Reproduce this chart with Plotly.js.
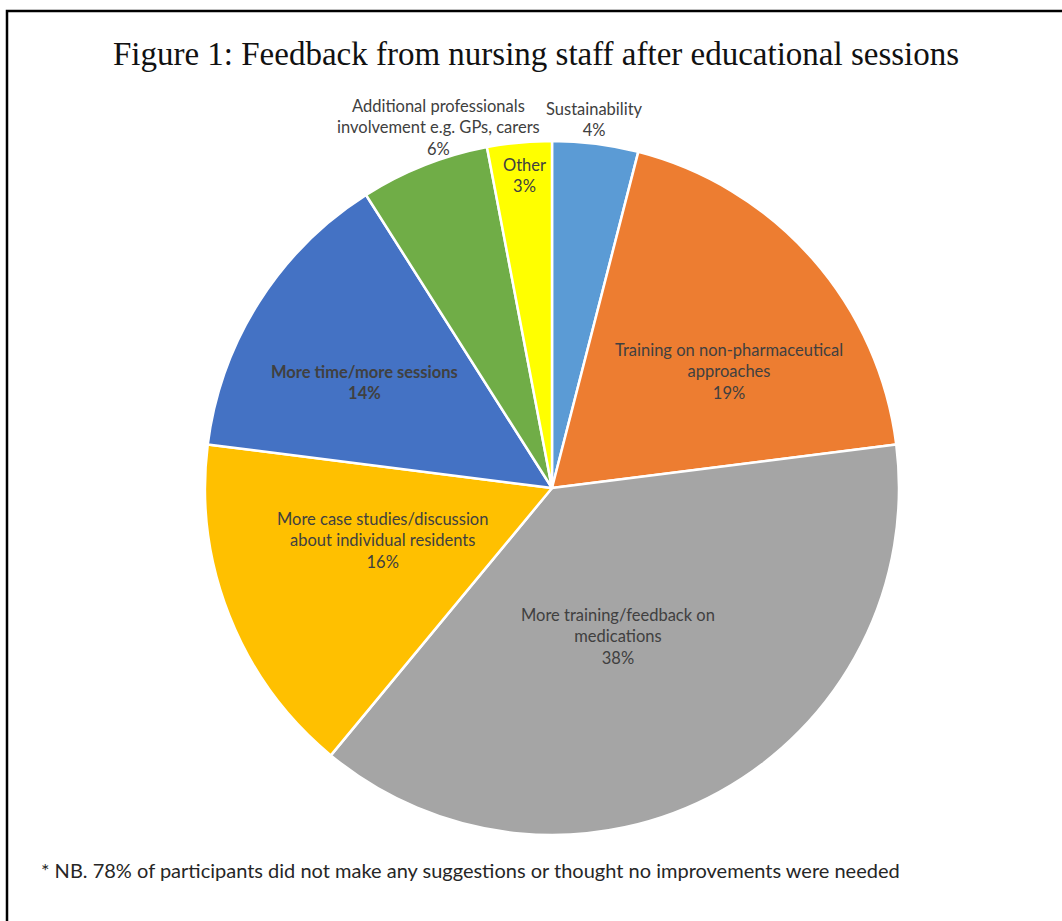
<!DOCTYPE html>
<html>
<head>
<meta charset="utf-8">
<script src="https://cdn.plot.ly/plotly-3.0.1.min.js"></script>
<style>
  html, body { margin: 0; padding: 0; background: #fff; }
  #chart { width: 1062px; height: 921px; }
</style>
</head>
<body>
<div id="chart"></div>
<script>
// Feedback categories, clockwise from 12 o'clock
const categories = [
  'Sustainability',
  'Training on non-pharmaceutical<br>approaches',
  'More training/feedback on<br>medications',
  'More case studies/discussion<br>about individual residents',
  'More time/more sessions',
  'Additional professionals<br>involvement e.g. GPs, carers',
  'Other'
];
const percents = [4, 19, 38, 16, 14, 6, 3];
const sliceColors = ['#5B9BD5', '#ED7D31', '#A5A5A5', '#FFC000', '#4472C4', '#70AD47', '#FFFF00'];
const boldLabel = [false, false, false, false, true, false, false];

// Label placement: distance from centre as a fraction of the radius, and a small turn (degrees) off the slice mid-angle
const labelRadius = [1.07, 0.61, 0.47, 0.51, 0.62, 1.09, 0.905];
const labelTurn = [-0.7, 8.1, 4.8, 4.4, -3.1, 4.1, 0.3];

const W = 1062, H = 921;
const cx = 552, cy = 488, R = 347;   // pie centre and radius in pixels

const pieTrace = {
  type: 'pie',
  values: percents,
  labels: categories,
  sort: false,
  direction: 'clockwise',
  rotation: 0,
  textinfo: 'none',
  hoverinfo: 'none',
  showlegend: false,
  marker: { colors: sliceColors, line: { color: '#ffffff', width: 2.5 } },
  domain: {
    x: [(cx - R) / W, (cx + R) / W],
    y: [(H - cy - R) / H, (H - cy + R) / H]
  }
};

// Data labels placed around each slice's mid-angle
const total = percents.reduce((a, b) => a + b, 0);
let start = 0;
const labelAnnotations = percents.map((v, i) => {
  const mid = start + (v / total) * 180;
  start += (v / total) * 360;
  const ang = (mid + labelTurn[i]) * Math.PI / 180;
  const px = cx + R * labelRadius[i] * Math.sin(ang);
  const py = cy - R * labelRadius[i] * Math.cos(ang);
  let txt = categories[i] + '<br>' + v + '%';
  if (boldLabel[i]) txt = '<b>' + txt.replace('<br>', '</b><br><b>') + '</b>';
  return {
    xref: 'paper', yref: 'paper',
    x: px / W, y: 1 - py / H,
    xanchor: 'center', yanchor: 'middle',
    showarrow: false,
    align: 'center',
    text: txt,
    font: { family: 'Lato, "Open Sans", sans-serif', size: 16.5, color: '#404040' }
  };
});

const footnote = {
  xref: 'paper', yref: 'paper',
  x: 39 / W, y: 1 - 870 / H,
  xanchor: 'left', yanchor: 'middle',
  showarrow: false,
  text: '* NB. 78% of participants did not make any suggestions or thought no improvements were needed',
  font: { family: 'Lato, "Open Sans", sans-serif', size: 20, color: '#262626' }
};

const layout = {
  width: W, height: H,
  margin: { l: 0, r: 0, t: 0, b: 0 },
  paper_bgcolor: '#ffffff',
  title: {
    text: 'Figure 1: Feedback from nursing staff after educational sessions',
    xref: 'paper', yref: 'paper',
    x: 536 / W, y: 1 - 53 / H,
    xanchor: 'center', yanchor: 'middle',
    font: { family: '"Liberation Serif", "Times New Roman", serif', size: 33, color: '#111111' }
  },
  annotations: labelAnnotations.concat([footnote]),
  shapes: [{
    type: 'rect', xref: 'paper', yref: 'paper',
    x0: 7 / W, x1: 1.05, y0: -0.05, y1: 1 - 11 / H,
    line: { color: '#000000', width: 2.5 },
    fillcolor: 'rgba(0,0,0,0)'
  }]
};

Plotly.newPlot('chart', [pieTrace], layout, { displayModeBar: false, staticPlot: true });
</script>
</body>
</html>
